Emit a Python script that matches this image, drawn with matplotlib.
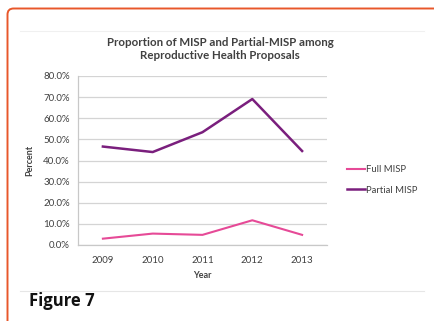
import matplotlib
matplotlib.use("Agg")
import matplotlib.pyplot as plt
from matplotlib.patches import FancyBboxPatch
from matplotlib.lines import Line2D
from matplotlib.ticker import FuncFormatter

years = ["2009", "2010", "2011", "2012", "2013"]
full_misp = [3.0, 5.4, 4.8, 11.7, 4.8]
partial_misp = [46.6, 44.0, 53.4, 69.1, 44.5]
y_ticks = [0, 10, 20, 30, 40, 50, 60, 70, 80]

plt.rcParams["font.family"] = ["Lato", "DejaVu Sans"]
txt = "#404040"

fig = plt.figure(figsize=(4.34, 3.21), dpi=100)
W, H = 434, 321

# orange card border, open on the right and bottom
card = FancyBboxPatch((7.5 / W, -0.1), 1.2, (321 - 8.5) / H + 0.1,
                      boxstyle="round,pad=0,rounding_size=0.014",
                      transform=fig.transFigure, fill=False,
                      edgecolor="#E8572A", linewidth=1.4, mutation_aspect=W / H)
fig.patches.append(card)

# faint separators above and below the chart
fig.add_artist(Line2D([20 / W, 424 / W], [1 - 31 / H] * 2, color="#f0f0f0", lw=0.8))
fig.add_artist(Line2D([20 / W, 424 / W], [1 - 291 / H] * 2, color="#e6e6e6", lw=0.8))

ax = fig.add_axes([78 / W, 76 / H, 249 / W, 169 / H])
x = range(len(years))
ax.plot(x, full_misp, color="#E64A97", lw=1.5, label="Full MISP")
ax.plot(x, partial_misp, color="#7A1F7D", lw=1.8, label="Partial MISP")

ax.set_xlim(-0.5, len(years) - 0.5)
ax.set_ylim(0, 80)
ax.set_yticks(y_ticks)
ax.yaxis.set_major_formatter(FuncFormatter(lambda v, p: f"{v:.1f}%"))
ax.set_xticks(list(x))
ax.set_xticklabels(years)
ax.grid(axis="y", color="#d4d4d4", lw=0.9)
ax.set_axisbelow(True)
for s in ["top", "right"]:
    ax.spines[s].set_visible(False)
for s in ["left", "bottom"]:
    ax.spines[s].set_color("#c8c8c8")
    ax.spines[s].set_linewidth(0.9)
ax.tick_params(length=0, labelsize=7, labelcolor=txt, pad=6)
ax.tick_params(axis="x", pad=8)

ax.set_xlabel("Year", fontsize=6.5, fontweight="bold", color=txt, labelpad=4)
ax.set_ylabel("Percent", fontsize=6.5, fontweight="bold", color=txt, labelpad=6)

fig.text(220 / W, 1 - 49 / H,
         "Proportion of MISP and Partial-MISP among\nReproductive Health Proposals",
         ha="center", va="center", fontsize=8.3, fontweight="bold", color=txt,
         linespacing=1.25)

fig.legend(loc="center left", bbox_to_anchor=(338 / W, 1 - 180 / H),
           frameon=False, fontsize=6.8, handlelength=2.0, handletextpad=0.1,
           labelspacing=1.2, labelcolor=txt)

fig.text(29 / W, 1 - 301 / H, "Figure 7", fontsize=12, fontweight="bold",
         color="#111111", family=["Open Sans", "DejaVu Sans"], va="center")

fig.savefig("out.png", dpi=100, facecolor="white")
